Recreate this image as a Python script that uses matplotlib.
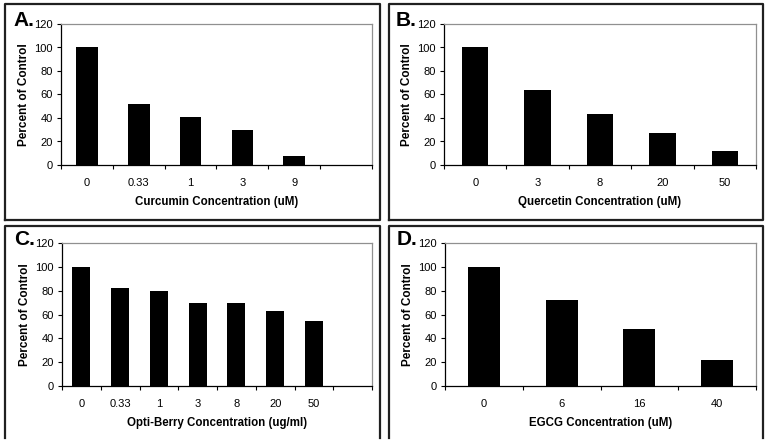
import matplotlib
matplotlib.use("Agg")
import matplotlib.pyplot as plt
from matplotlib.lines import Line2D

plt.rcParams['font.family'] = ['Liberation Sans', 'DejaVu Sans']

W, H = 771, 448

# data
curcumin_conc = ['0', '0.33', '1', '3', '9']
curcumin_pct = [100, 52, 41, 30, 8]

quercetin_conc = ['0', '3', '8', '20', '50']
quercetin_pct = [100, 63.5, 43.3, 27.2, 12]

optiberry_conc = ['0', '0.33', '1', '3', '8', '20', '50']
optiberry_pct = [100, 82.2, 79.4, 69.8, 69.8, 63.3, 54.8]

egcg_conc = ['0', '6', '16', '40']
egcg_pct = [100, 71.8, 48, 21.5]

fig = plt.figure(figsize=(W / 100, H / 100), dpi=100)


def px_axes(left, right, top, bottom):
    return fig.add_axes([left / W, (H - bottom) / H, (right - left) / W, (bottom - top) / H])


def frame(left, right, top, bottom, closed=True):
    xs = [left, left, right, right]
    ys = [bottom, top, top, bottom]
    if closed:
        xs.append(left)
        ys.append(bottom)
    fig.add_artist(Line2D([x / W for x in xs], [(H - y) / H for y in ys],
                          transform=fig.transFigure, color='#202020', lw=1.6))


def panel(box, letter, cats, vals, ncat, width, xlabel):
    ax = px_axes(*box)
    xs = list(range(len(cats)))
    ax.bar(xs, vals, width=width, color='black')
    ax.set_xlim(-0.5, ncat - 0.5)
    ax.set_ylim(0, 120)
    ax.set_yticks(range(0, 121, 20))
    ax.set_xticks([i - 0.5 for i in range(ncat + 1)])
    ax.set_xticklabels([])
    ax.set_xticks(xs, minor=True)
    ax.set_xticklabels(cats, minor=True)
    ax.tick_params(axis='x', which='major', direction='out', length=3, width=0.8)
    ax.tick_params(axis='x', which='minor', length=0, pad=9, labelsize=8)
    ax.tick_params(axis='y', direction='out', length=3, width=0.8, pad=3, labelsize=8)
    for s in ['top', 'right']:
        ax.spines[s].set_color('#909090')
        ax.spines[s].set_linewidth(0.9)
    for s in ['left', 'bottom']:
        ax.spines[s].set_linewidth(0.9)
    ax.set_ylabel('Percent of Control', fontsize=8.5, fontweight='bold')
    ax.yaxis.set_label_coords(-31 / (box[1] - box[0]), 0.5)
    ax.set_xlabel(xlabel, fontsize=8.3, fontweight='bold')
    ax.xaxis.set_label_coords(0.5, -31 / (box[3] - box[2]))
    fig.text((box[0] - 48) / W, (H - 26) / H if box[2] < 100 else (H - 245) / H,
             letter, fontsize=15, fontweight='bold', ha='left', va='baseline')
    return ax


frame(5, 380, 4, 220)
frame(389, 763, 4, 220)
frame(5, 380, 226, 438, closed=False)
frame(389, 763, 226, 438, closed=False)

panel((61, 372, 24, 165), 'A.', curcumin_conc, curcumin_pct, 6, 0.42,
      'Curcumin Concentration (uM)')
panel((444, 756, 24, 165), 'B.', quercetin_conc, quercetin_pct, 5, 0.42,
      'Quercetin Concentration (uM)')
panel((62, 372, 243, 386), 'C.', optiberry_conc, optiberry_pct, 8, 0.47,
      'Opti-Berry Concentration (ug/ml)')
panel((445, 756, 243, 386), 'D.', egcg_conc, egcg_pct, 4, 0.41,
      'EGCG Concentration (uM)')

fig.savefig('out.png', dpi=100)
